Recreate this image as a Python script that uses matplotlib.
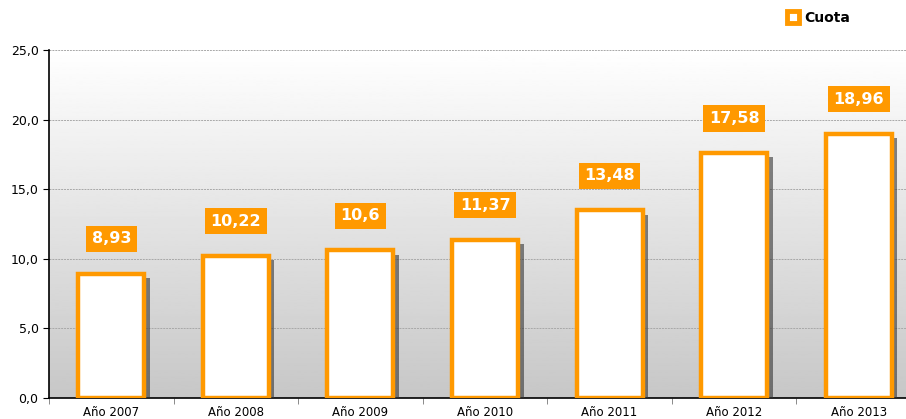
import numpy as np
import matplotlib.pyplot as plt
import matplotlib.patheffects as pe
from matplotlib.lines import Line2D

years = ["Año 2007", "Año 2008", "Año 2009", "Año 2010", "Año 2011", "Año 2012", "Año 2013"]
cuota = [8.93, 10.22, 10.6, 11.37, 13.48, 17.58, 18.96]
cuota_txt = ["8,93", "10,22", "10,6", "11,37", "13,48", "17,58", "18,96"]
yticks = [0, 5, 10, 15, 20, 25]

orange = "#FF9900"

fig = plt.figure(figsize=(9.06, 4.19), dpi=100)
# plot area runs a bit past the right edge of the picture
ax = fig.add_axes([49 / 906, 21 / 419, 872 / 906, 348 / 419])

x = np.arange(len(years))
ax.set_xlim(-0.5, len(years) - 0.5)
ax.set_ylim(0, 25)

# gradient background: white at top, gray at bottom
grad = np.linspace(0.78, 1.0, 256).reshape(-1, 1)
ax.imshow(grad, extent=[-0.5, len(years) - 0.5, 0, 25], origin="lower",
          cmap="gray", vmin=0, vmax=1, aspect="auto", zorder=0)

for yv in yticks[1:]:
    ax.axhline(yv, color="#a8a8a8", lw=0.7, ls=(0, (2, 1)), zorder=1)

bars = ax.bar(x, cuota, width=0.53, facecolor="white", edgecolor=orange,
              linewidth=3.2, zorder=3)
for b in bars:
    b.set_path_effects([pe.SimplePatchShadow(offset=(4, -3), shadow_rgbFace="#333333", alpha=0.6),
                        pe.Normal()])

for xi, v, t in zip(x, cuota, cuota_txt):
    ax.annotate(t, (xi, v), xytext=(0, 25), textcoords="offset points",
                ha="center", va="center", color="white", fontsize=11.5,
                fontweight="bold", zorder=5,
                bbox=dict(boxstyle="square,pad=0.35", fc=orange, ec="none"))

ax.set_xticks(x)
ax.set_xticklabels(years, fontsize=8.5)
ax.set_xticks(np.arange(-0.5, len(years), 1), minor=True)
ax.tick_params(axis="x", which="major", length=0, pad=6)
ax.tick_params(axis="x", which="minor", length=4, color="#777777")
ax.set_yticks(yticks)
ax.set_yticklabels([f"{v:.1f}".replace(".", ",") for v in yticks], fontsize=9)
ax.tick_params(axis="y", length=4)

for s in ["top", "right"]:
    ax.spines[s].set_visible(False)
ax.spines["left"].set_linewidth(1.2)
ax.spines["bottom"].set_linewidth(1.2)

handle = Line2D([], [], marker="s", ls="none", mfc="white", mec=orange, mew=3.5, markersize=8)
fig.legend([handle], ["Cuota"], loc="center", bbox_to_anchor=(818 / 906, 1 - 18 / 419),
           frameon=False, handletextpad=0.3, handlelength=1.0,
           prop={"weight": "bold", "size": 10})

fig.savefig("out.png", dpi=100)
